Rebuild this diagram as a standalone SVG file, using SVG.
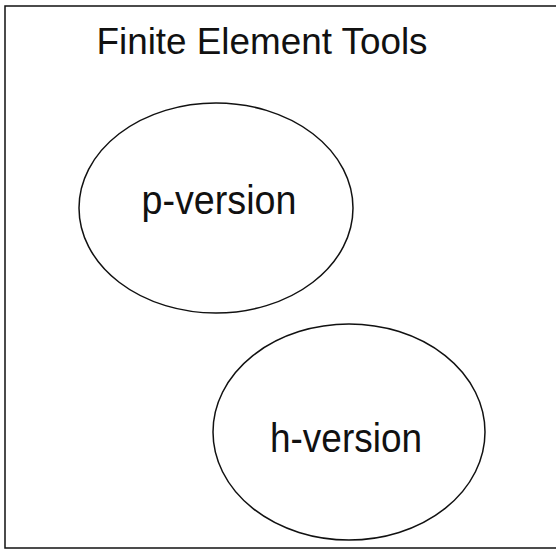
<svg xmlns="http://www.w3.org/2000/svg" width="556" height="552" viewBox="0 0 556 552">
<style>
.shape{fill:none;stroke:#111;stroke-width:1.5}
.t{font-family:"Liberation Sans",Arial,sans-serif;fill:#111;text-anchor:middle}
</style>
<rect width="556" height="552" fill="#fff"/>
<g id="frame">
<rect class="shape" x="5" y="6" width="560" height="542"/>
<text class="t" x="262" y="54" font-size="36" textLength="331" lengthAdjust="spacingAndGlyphs">Finite Element Tools</text>
</g>
<g id="connectors"></g>
<g id="p-version">
<ellipse class="shape" cx="216" cy="208" rx="137" ry="105"/>
<text class="t" x="219" y="214" font-size="40" textLength="155" lengthAdjust="spacingAndGlyphs">p-version</text>
</g>
<g id="h-version">
<ellipse class="shape" cx="349" cy="432" rx="136" ry="108"/>
<text class="t" x="346" y="452" font-size="40" textLength="152" lengthAdjust="spacingAndGlyphs">h-version</text>
</g>
</svg>
